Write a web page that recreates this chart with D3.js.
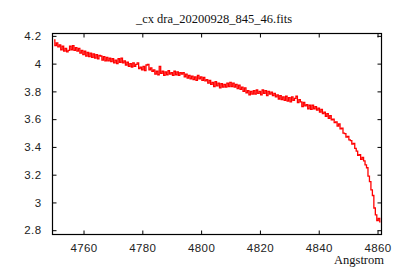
<!DOCTYPE html>
<html>
<head>
<meta charset="utf-8">
<script src="https://cdn.jsdelivr.net/npm/d3@7"></script>
<style>
  html, body { margin: 0; padding: 0; background: #fff; }
  svg { display: block; }
</style>
</head>
<body>
<svg id="chart" width="400" height="280"></svg>
<script>
// ---- data ----
const titleText = "_cx dra_20200928_845_46.fits";
const xAxisLabel = "Angstrom";
const xTicks = [4760, 4780, 4800, 4820, 4840, 4860];
const yTicks = [2.8, 3, 3.2, 3.4, 3.6, 3.8, 4, 4.2];
const xDomain = [4749.45, 4861.35];
const yDomain = [2.769, 4.217];
// spectrum sampled on a uniform grid (start, step in Angstrom)
const lambdaStart = 4750;
const lambdaStep = 0.5;
const flux = [
  4.17, 4.13, 4.15, 4.12,
  4.135, 4.10, 4.125, 4.09,
  4.11, 4.085, 4.095, 4.125,
  4.10, 4.13, 4.095, 4.115,
  4.09, 4.11, 4.075, 4.095,
  4.065, 4.09, 4.055, 4.08,
  4.05, 4.075, 4.045, 4.07,
  4.04, 4.065, 4.035, 4.06,
  4.055, 4.025, 4.05, 4.02,
  4.045, 4.02, 4.04, 4.015,
  4.035, 4.005, 4.025, 4.0,
  4.035, 4.01, 4.04, 4.005,
  4.02, 3.99, 4.01, 3.98,
  4.0, 3.975, 4.005, 3.98,
  3.995, 4.005, 3.965, 3.975,
  3.955, 3.98, 3.95, 3.99,
  3.995, 3.955, 3.97, 3.945,
  3.955, 3.925, 3.945, 3.92,
  3.98, 3.93, 3.945, 3.915,
  3.94, 3.92, 3.95, 3.925,
  3.935, 3.915, 3.945, 3.92,
  3.94, 3.915, 3.935, 3.925,
  3.935, 3.905, 3.925, 3.895,
  3.915, 3.89, 3.91, 3.885,
  3.905, 3.88, 3.915, 3.89,
  3.905, 3.88, 3.90, 3.875,
  3.885, 3.86, 3.88, 3.85,
  3.865, 3.835, 3.87, 3.84,
  3.86, 3.825, 3.855, 3.83,
  3.85, 3.83, 3.86, 3.835,
  3.865, 3.835, 3.86, 3.83,
  3.85, 3.82, 3.845, 3.815,
  3.83, 3.80, 3.825, 3.79,
  3.805, 3.775, 3.80, 3.78,
  3.805, 3.78, 3.81, 3.785,
  3.80, 3.775, 3.81, 3.785,
  3.805, 3.77, 3.80, 3.78,
  3.795, 3.77, 3.785, 3.76,
  3.775, 3.745, 3.77, 3.74,
  3.76, 3.735, 3.765, 3.73,
  3.755, 3.725, 3.76, 3.735,
  3.75, 3.765, 3.72, 3.74,
  3.725, 3.69, 3.72, 3.695,
  3.705, 3.675, 3.70, 3.67,
  3.70, 3.675, 3.69, 3.665,
  3.68, 3.65, 3.67, 3.64,
  3.65, 3.62, 3.64, 3.605,
  3.625, 3.595, 3.60, 3.575,
  3.58, 3.55, 3.565, 3.53,
  3.535, 3.50, 3.495, 3.47,
  3.475, 3.45, 3.445, 3.42,
  3.425, 3.39, 3.37, 3.34,
  3.345, 3.31, 3.325, 3.30,
  3.27, 3.25, 3.19, 3.15,
  3.09, 3.05, 2.96, 2.91,
  2.87, 2.885, 2.86
];

// ---- layout ----
const margin = { left: 52.5, top: 33.5, right: 18.5, bottom: 45.5 };
const W = 400, H = 280;
const svg = d3.select("#chart");
const x = d3.scaleLinear().domain(xDomain).range([margin.left, W - margin.right]);
const y = d3.scaleLinear().domain(yDomain).range([H - margin.bottom, margin.top]);

const points = flux.map((v, i) => [lambdaStart + i * lambdaStep, v]);

// data line (clipped to frame)
svg.append("clipPath").attr("id", "clip").append("rect")
  .attr("x", margin.left).attr("y", margin.top)
  .attr("width", W - margin.left - margin.right)
  .attr("height", H - margin.top - margin.bottom);

svg.append("path")
  .datum(points)
  .attr("clip-path", "url(#clip)")
  .attr("fill", "none")
  .attr("stroke", "#ff0000")
  .attr("stroke-width", 1.3)
  .attr("stroke-linejoin", "miter")
  .attr("d", d3.line().x(d => x(d[0])).y(d => y(d[1])).curve(d3.curveStep));

// axes with inward ticks on all sides
const tickLen = 4;
const fontTick = "'Liberation Sans', Arial, sans-serif";
const bottomAx = svg.append("g").attr("transform", `translate(0,${H - margin.bottom})`)
  .call(d3.axisBottom(x).tickValues(xTicks).tickSize(-tickLen).tickPadding(9).tickFormat(d3.format("d")));
const topAx = svg.append("g").attr("transform", `translate(0,${margin.top})`)
  .call(d3.axisTop(x).tickValues(xTicks).tickSize(-tickLen).tickFormat(""));
const leftAx = svg.append("g").attr("transform", `translate(${margin.left},0)`)
  .call(d3.axisLeft(y).tickValues(yTicks).tickSize(-tickLen).tickPadding(11).tickFormat(d => String(+d.toFixed(1))));
const rightAx = svg.append("g").attr("transform", `translate(${W - margin.right},0)`)
  .call(d3.axisRight(y).tickValues(yTicks).tickSize(-tickLen).tickFormat(""));

[bottomAx, topAx, leftAx, rightAx].forEach(g => {
  g.select(".domain").remove();
  g.selectAll(".tick line").attr("stroke", "#000").attr("stroke-width", 1);
  g.selectAll(".tick text")
    .attr("fill", "#222")
    .style("font-family", fontTick)
    .style("font-size", "11.5px")
    .style("letter-spacing", "0.4px");
});

// frame
svg.append("rect")
  .attr("x", margin.left).attr("y", margin.top)
  .attr("width", W - margin.left - margin.right)
  .attr("height", H - margin.top - margin.bottom)
  .attr("fill", "none").attr("stroke", "#000").attr("stroke-width", 1.2);

// title
svg.append("text")
  .attr("x", 214).attr("y", 22.5)
  .attr("text-anchor", "middle")
  .style("font-family", "'Liberation Serif', 'Times New Roman', serif")
  .style("font-size", "12.5px")
  .attr("fill", "#111")
  .text(titleText);

// x axis label
svg.append("text")
  .attr("x", 384).attr("y", 264)
  .attr("text-anchor", "end")
  .style("font-family", "'Liberation Serif', 'Times New Roman', serif")
  .style("font-size", "12.5px")
  .attr("fill", "#111")
  .text(xAxisLabel);
</script>
</body>
</html>
